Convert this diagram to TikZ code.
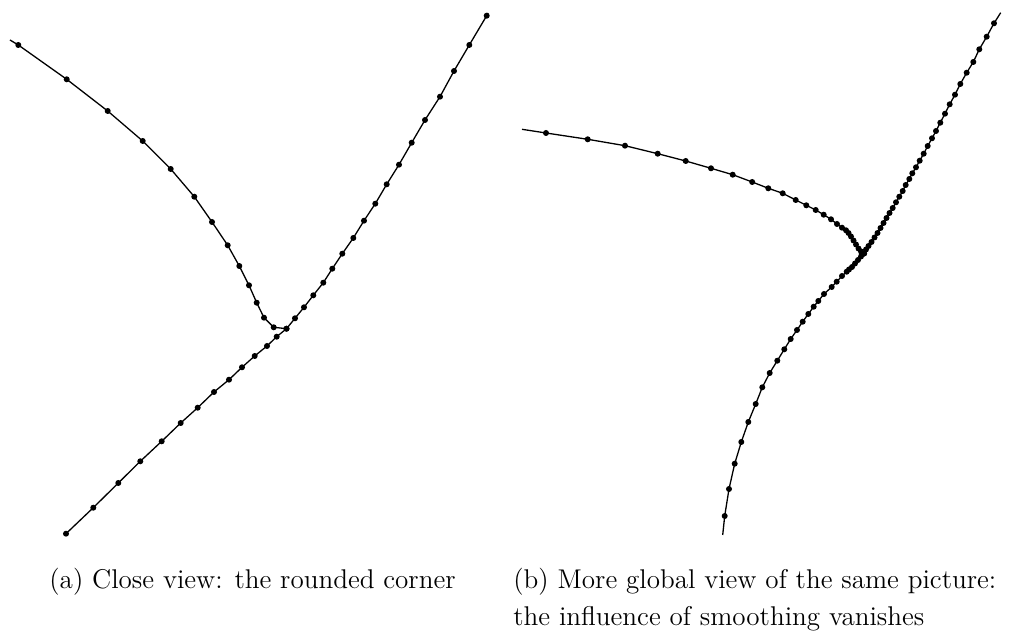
\documentclass[tikz,border=0pt]{standalone}
\usepackage{amsmath,amssymb}
\usepackage{xcolor}
\usepackage{tikz}

\tikzset{
  sample/.style={line width=0.65pt,mark=*,mark size=1.15pt},
  tail/.style={line width=0.65pt},
  caption/.style={font=\fontsize{13.55}{18.5}\selectfont,inner sep=0pt}
}

\begin{document}
\begin{tikzpicture}[x=0.5pt,y=-0.5pt]
  \useasboundingbox (0,0) rectangle (1014,635);
  % (a) close view
  \draw[tail] (10,40) -- (18.3,45);
  \draw[sample] plot coordinates {(18.3,45) (66.7,79.3) (107.7,111) (142.7,141)
    (170.7,169) (194.3,196.7) (212,222) (227.7,245.3) (239.3,266) (249,285.3)
    (256.7,302.7) (264,317.7) (273.7,327.3) (286.5,328.7)};
  \draw[sample] plot coordinates {(66,533.7) (93.3,507.7) (118.3,483) (140.3,461.3)
    (161.7,441.3) (180.7,423) (197.7,407.7) (214,392) (229,379.7) (242,367.3)
    (254.7,356) (267,346) (276.7,336.7) (286.5,328.7) (295,318.3) (304,307.3)
    (313.3,295.3) (323.3,282.7) (332.3,268.7) (342.3,253.7) (353.3,238)
    (364,220.7) (375.3,203.7) (386.7,184.3) (399,164.7) (411.7,142.7) (425,120)
    (440,96.7) (454,71) (469.3,45) (486.7,15.7)};
  \draw[tail] (486.7,15.7) -- (488,13);
  % (b) global view
  \draw[tail] (522,129.3) -- (546,133);
  \draw[sample] plot coordinates {(546,133) (587.7,139.3) (625,145.7) (657.7,153.7)
    (685.7,161) (711,168.3) (732.7,174.7) (752.2,182) (768.3,188.3) (782.7,193.3)
    (795.7,200) (806.3,205.3) (815.7,210) (823.7,214.7) (831,219.3) (837,224)
    (842,227.7) (846,230.3) (848.5,233) (851,236.5) (853.5,240.5) (856,244.5)
    (858.5,248.5) (861,251.5) (864,253.5)};
  \draw[tail] (1000.7,12.7) -- (994,23.3);
  \draw[sample] plot coordinates {(994,23.3) (986.7,36.7) (979.3,49.3) (973.3,62)
    (966.7,72.7) (960.3,84) (955,94.7) (949.7,104.3) (945,113.7) (940.3,122.7)
    (936,131) (932,138.3) (927.7,146) (923.7,153.7) (919.7,160.7) (916,167.3)
    (912.3,173.3) (909.3,179) (905.7,185) (902.7,191) (899.3,196.7) (896,202.3)
    (892.7,208) (889.5,213) (886.5,218) (883.5,223) (880.5,228) (877.5,233)
    (874.5,237.5) (871.5,242) (868.5,246) (866,249.5) (864,253.5)};
  \draw[sample] plot coordinates {(864,253.5) (861,256.5) (858,260) (855,263.5)
    (852,267) (849,269.5) (846.7,271.7) (842,276) (836.7,281.7) (831.7,287)
    (824,294) (818.3,301) (813.7,306.7) (808.3,314) (802.7,321.7) (797,330)
    (790.7,339) (784.3,349.3) (777.3,360.7) (769.7,373) (762.3,387.3)
    (755.7,404) (748.3,422) (741.3,442) (734.7,463.7) (729,489) (724.7,516)};
  \draw[tail] (724.7,516) -- (722.7,535);
  % captions
  \node[caption,anchor=base west] (capA) at (49,589)
    {(a) Close view: the rounded corner};
  \node[caption,anchor=base west,align=left] (capB) at (513,626)
    {(b) More global view of the same picture:\\the influence of smoothing vanishes};
\end{tikzpicture}
\end{document}
